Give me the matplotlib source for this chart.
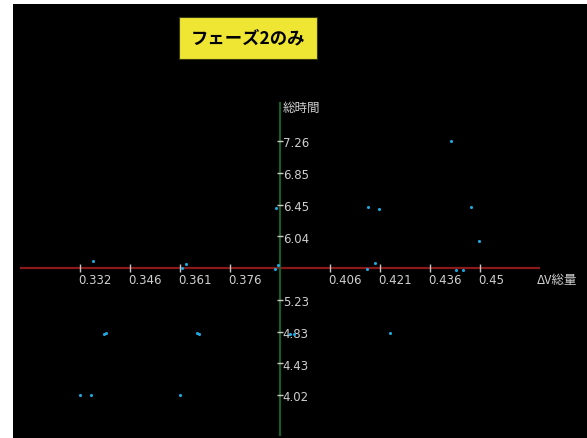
import numpy as np
import matplotlib
matplotlib.use('Agg')
import matplotlib.pyplot as plt

plt.rcParams['font.family'] = ['Noto Sans CJK JP', 'DejaVu Sans']

# phase 2 runs: total delta-V vs total time
dv = [0.3358, 0.3320, 0.3352, 0.3391, 0.3397, 0.3615, 0.3633, 0.3621, 0.3665, 0.3671,
      0.3895, 0.3904, 0.3898, 0.4170, 0.4202, 0.4414, 0.4473, 0.4497, 0.4189, 0.4166,
      0.4428, 0.4451, 0.4236, 0.3940, 0.3951]
t_total = [5.729, 4.020, 4.020, 4.798, 4.811, 4.020, 5.691, 5.640, 4.811, 4.798,
           5.627, 5.678, 6.405, 6.418, 6.393, 7.260, 6.418, 5.984, 5.704, 5.627,
           5.614, 5.614, 4.811, 4.798, 4.798]

x_center = 0.391
y_center = 5.64
x_ticks = [0.332, 0.34675, 0.3615, 0.37625, 0.40575, 0.4205, 0.43525, 0.450]
x_labels = ['0.332', '0.346', '0.361', '0.376', '0.406', '0.421', '0.436', '0.45']
y_ticks = [7.26, 6.855, 6.45, 6.045, 5.235, 4.83, 4.425, 4.02]
y_labels = ['7.26', '6.85', '6.45', '6.04', '5.23', '4.83', '4.43', '4.02']

fig = plt.figure(figsize=(5.87, 4.38), dpi=100)
fig.patch.set_facecolor('white')
ax = fig.add_axes([13 / 587, 0, 574 / 587, 434 / 438])
ax.set_facecolor('black')
for s in ax.spines.values():
    s.set_visible(False)
ax.set_xticks([])
ax.set_yticks([])
ax.set_xlim(0.31224, 0.48157)
ax.set_ylim(3.4715, 9.0076)

# cross axes
ax.plot([0.3146, 0.4674], [y_center, y_center], color='#8a1a1a', lw=1.6, zorder=1)
ax.plot([x_center, x_center], [3.51, 7.745], color='#1f5a2a', lw=1.6, zorder=1)

ax.scatter(x_ticks, [y_center] * len(x_ticks), marker='|', s=30, color='#c8c8c8',
           linewidths=1, zorder=2)
ax.scatter([x_center] * len(y_ticks), y_ticks, marker='_', s=14, color='#c8c8c8',
           linewidths=1, zorder=2)
for xv, lab in zip(x_ticks, x_labels):
    ax.annotate(lab, (xv, y_center), xytext=(-1, -4), textcoords='offset points',
                ha='left', va='top', fontsize=8.5, color='#d0d0d0', family='DejaVu Sans')
for yv, lab in zip(y_ticks, y_labels):
    ax.annotate(lab, (x_center, yv), xytext=(2, -2), textcoords='offset points',
                ha='left', va='center', fontsize=8.5, color='#d0d0d0', family='DejaVu Sans')

ax.annotate('総時間', (x_center, 7.745), xytext=(2, -4), textcoords='offset points',
            ha='left', va='center', fontsize=9, color='#d0d0d0')
ax.annotate('ΔV総量', (0.4674, y_center), xytext=(-2, -4), textcoords='offset points',
            ha='left', va='top', fontsize=9, color='#d0d0d0')

ax.scatter(dv, t_total, s=5, marker='o', color='#1ea6de', linewidths=0, zorder=3)

# title box
fig.text(248 / 587, 1 - 38 / 438, 'フェーズ2のみ', ha='center', va='center',
         fontsize=12.5, fontweight='bold', color='black',
         bbox=dict(boxstyle='square,pad=0.7', facecolor='#efe633', edgecolor='#3a3a10', lw=0.8))

fig.savefig('out.png', dpi=100, facecolor=fig.get_facecolor())
